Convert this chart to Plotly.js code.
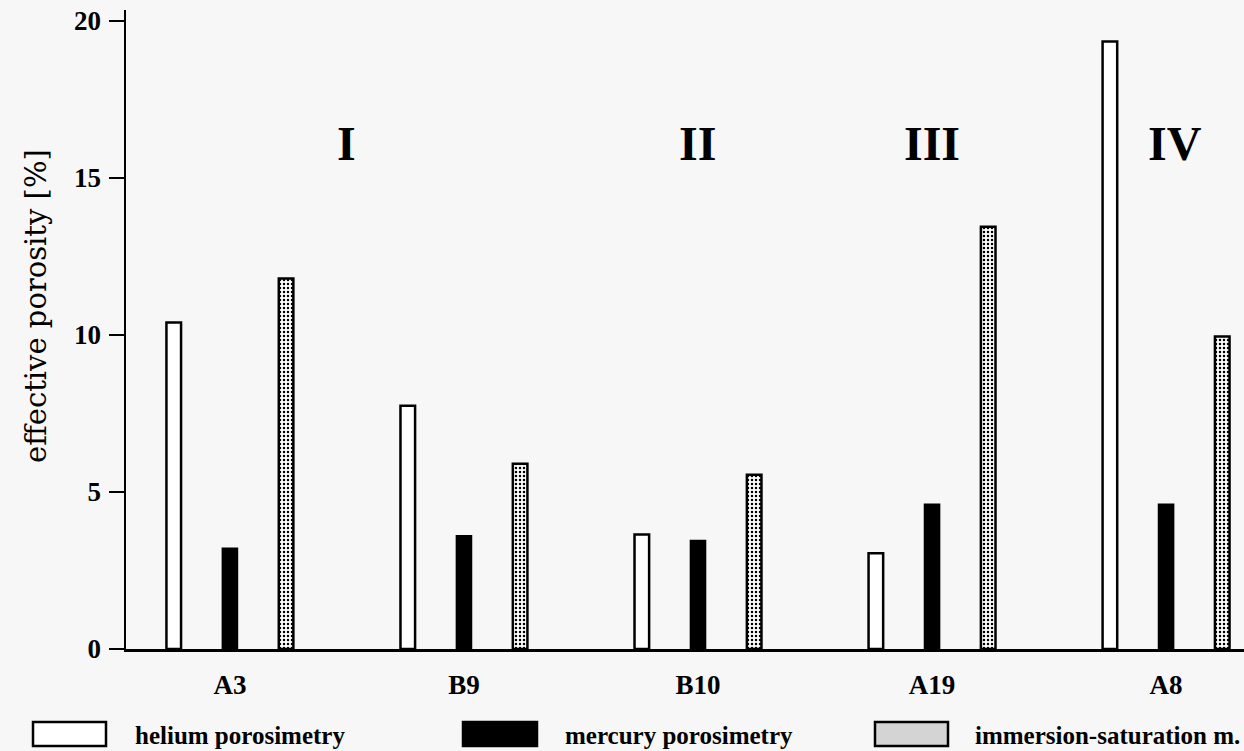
<!DOCTYPE html>
<html>
<head>
<meta charset="utf-8">
<script src="https://cdn.plot.ly/plotly-3.0.1.min.js"></script>
<style>
  html, body { margin: 0; padding: 0; background: #f7f7f7; }
  #chart { width: 1244px; height: 751px; }
</style>
</head>
<body>
<div id="chart"></div>
<script>
// ---- data ----
const categories = ['A3', 'B9', 'B10', 'A19', 'A8'];
const helium = [10.4, 7.75, 3.65, 3.05, 19.35];
const mercury = [3.2, 3.6, 3.45, 4.6, 4.6];
const immersion = [11.8, 5.9, 5.55, 13.45, 9.95];
const seriesNames = ['helium porosimetry', 'mercury porosimetry', 'immersion-saturation m.'];
const groupLabels = ['I', 'II', 'III', 'IV'];
const groupPositions = [0.5, 2, 3, 4.04];
const yTicks = [0, 5, 10, 15, 20];
const yTitle = 'effective porosity [%]';

// ---- layout constants ----
const W = 1244, H = 751;
const M = { l: 126, r: 0, t: 10, b: 102 };
const plotW = W - M.l - M.r, plotH = H - M.t - M.b;
const serif = 'Liberation Serif, Times New Roman, serif';
const bg = '#f7f7f7';

const traces = [
  {
    type: 'bar', name: seriesNames[0], x: categories, y: helium,
    marker: { color: '#ffffff', line: { color: '#000', width: 2.5 } },
    hoverinfo: 'x+y+name'
  },
  {
    type: 'bar', name: seriesNames[1], x: categories, y: mercury,
    marker: { color: '#000000', line: { color: '#000', width: 2 } },
    hoverinfo: 'x+y+name'
  },
  {
    type: 'bar', name: seriesNames[2], x: categories, y: immersion,
    marker: {
      color: '#ffffff',
      line: { color: '#000', width: 2.5 },
      pattern: { shape: '.', fgcolor: '#000', bgcolor: '#ffffff', size: 4, solidity: 0.3 }
    },
    hoverinfo: 'x+y+name'
  }
];

// helpers for pixel -> paper
const px = x => (x - M.l) / plotW;
const py = y => (H - M.b - y) / plotH;

// legend drawn beneath the axis
const legendBoxes = [
  { x0: 33, x1: 106, fill: '#ffffff', tx: 133 },
  { x0: 463, x1: 537, fill: '#000000', tx: 563 },
  { x0: 875, x1: 948, fill: '#d4d4d4', tx: 973 }
];
const shapes = legendBoxes.map(b => ({
  type: 'rect', xref: 'paper', yref: 'paper',
  x0: px(b.x0), x1: px(b.x1), y0: py(746), y1: py(722),
  fillcolor: b.fill, line: { color: '#000', width: 2.5 }
}));
const annotations = legendBoxes.map((b, i) => ({
  xref: 'paper', yref: 'paper', x: px(b.tx), y: py(735),
  xanchor: 'left', yanchor: 'middle', showarrow: false,
  text: '<b>' + seriesNames[i] + '</b>',
  font: { family: serif, size: 25, color: '#000' }
}));
groupLabels.forEach((g, i) => {
  annotations.push({
    x: groupPositions[i], y: 16.1, xref: 'x', yref: 'y',
    text: '<b>' + g + '</b>', showarrow: false,
    xanchor: 'center', yanchor: 'middle',
    font: { family: serif, size: 48, color: '#000' }
  });
});
// y-axis title
annotations.push({
  xref: 'paper', yref: 'paper', x: px(36), y: py(306),
  xanchor: 'center', yanchor: 'middle', textangle: -90, showarrow: false,
  text: yTitle,
  font: { family: 'DejaVu Serif, serif', size: 29, color: '#000' }
});

const layout = {
  width: W, height: H,
  margin: M,
  paper_bgcolor: bg, plot_bgcolor: bg,
  showlegend: false,
  barmode: 'group',
  bargap: 0.28,
  bargroupgap: 0.74,
  font: { family: serif, color: '#000' },
  xaxis: {
    type: 'category',
    range: [-0.444, 4.333],
    showline: true, linecolor: '#000', linewidth: 2.5,
    ticks: '', showgrid: false, zeroline: false,
    tickfont: { family: serif, size: 27, color: '#000' },
    ticklabelstandoff: 10,
    tickprefix: '<b>', ticksuffix: '</b>'
  },
  yaxis: {
    range: [0, 20.35],
    tickvals: yTicks,
    ticktext: yTicks.map(v => '<b>' + v + '</b>'),
    ticks: 'outside', ticklen: 15, tickwidth: 2.5, tickcolor: '#000',
    showline: true, linecolor: '#000', linewidth: 2.5,
    showgrid: false, zeroline: false,
    tickfont: { family: serif, size: 27, color: '#000' },
    ticklabelstandoff: 2,
    automargin: false
  },
  shapes: shapes,
  annotations: annotations
};

Plotly.newPlot('chart', traces, layout, { displayModeBar: false, staticPlot: true });
</script>
</body>
</html>
